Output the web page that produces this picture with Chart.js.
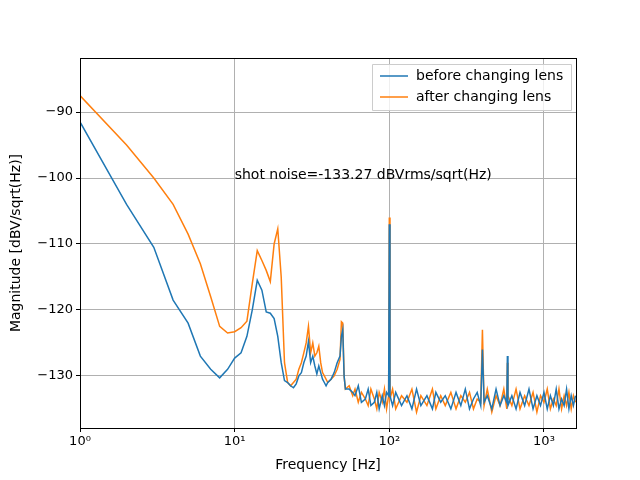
<!DOCTYPE html>
<html>
<head>
<script src="https://cdn.jsdelivr.net/npm/chart.js@4"></script>
<style>body{margin:0;background:#fff}</style>
</head>
<body>
<canvas id="chart" width="640" height="480"></canvas>
<script>
// frequency [Hz] and magnitude [dBV/sqrt(Hz)]
const freqBefore = [1,2,3,4,5,6,7,8,9,10,11,12,13,14,15,16,17,18,19,20,21,22,23,24,25,26,27,28,29,30,31,32,33,34,35,36,37,38,39,40,42,44,46,48,49,50,51,52,55,58,60,63,66,70,73,76,80,83,86,90,93,96,99,100,101,105,110,120,130,140,150,160,175,190,200,215,230,250,270,290,310,330,350,370,390,400,410,430,460,490,520,550,575,580,585,620,660,700,750,800,850,900,950,1000,1050,1100,1150,1200,1250,1300,1350,1400,1450,1500,1550,1600];
const magBefore = [-91.5,-104,-110.5,-118.5,-122,-127,-129,-130.3,-129,-127.3,-126.5,-124,-120,-115.5,-117,-120.3,-120.5,-121.3,-124,-128,-130.7,-131,-131.5,-131.8,-131.2,-130,-129.5,-128,-127,-124.8,-128,-127,-128.5,-129.7,-128.5,-129.5,-130.5,-131,-131.5,-131,-130.5,-129.5,-128,-127,-124,-123,-130,-132,-132,-132.5,-133,-131.5,-134,-133.5,-132,-134.5,-134,-132.5,-135,-133,-134.5,-132.5,-133,-107,-133,-134.5,-132.5,-134.5,-133,-135,-132,-134.5,-133,-135,-132.5,-134,-133,-135,-132.5,-134.5,-132,-135,-133.5,-132.5,-134.5,-126,-134,-133,-135,-132,-134.5,-133,-134,-127,-134.5,-133,-135,-132.5,-134.5,-132,-135,-133,-134.5,-132.5,-135,-133,-134.5,-132,-135,-133.5,-134.5,-132,-135,-133,-134.5,-133];
const freqAfter = [1,2,3,4,5,6,7,8,9,10,11,12,13,14,15,16,17,18,19,20,21,22,23,24,25,26,27,28,29,30,31,32,33,34,35,36,37,38,40,42,44,46,48,49,50,51,52,55,58,60,63,66,70,73,76,80,83,86,90,93,96,99,100,101,105,110,120,130,140,150,160,175,190,200,215,230,250,270,290,310,330,350,370,390,400,410,430,460,490,520,550,575,580,585,620,660,700,750,800,850,900,950,1000,1050,1100,1150,1200,1250,1300,1350,1400,1450,1500,1550,1600];
const magAfter = [-87.5,-95,-100,-104,-108.5,-113,-118,-122.5,-123.5,-123.3,-122.7,-121.7,-116,-111,-112.5,-114,-115.7,-110,-107.7,-115,-128,-131,-131.5,-131,-130.5,-129,-128,-126.5,-125,-122.5,-126.5,-125,-127,-126.5,-125.5,-128,-129.5,-130,-131,-130.5,-130,-129,-127.5,-121.8,-122,-130,-132,-131.5,-133,-132,-134,-132.5,-133.5,-134.5,-132,-133.5,-135,-132.5,-134,-132,-135,-133,-106,-133.5,-132,-135,-133,-134,-132,-135.5,-133,-134.5,-132,-135,-133,-134.5,-132.5,-135,-133,-134,-132.5,-135,-133.5,-134,-123,-134.5,-132,-135.5,-133,-134.5,-132,-135,-128,-133,-134.5,-132,-135,-133,-134.5,-132.5,-135.5,-133,-134,-132,-135,-133.5,-134.5,-132,-135,-133,-134.5,-132.5,-135,-133,-134];
const xTicks = [1, 10, 100, 1000];
const yTicks = [-130, -120, -110, -100, -90];
const seriesNames = ['before changing lens', 'after changing lens'];
const note = 'shot noise=-133.27 dBVrms/sqrt(Hz)';

const sup = {'0':'⁰','1':'¹','2':'²','3':'³'};

function toPoints(xs, ys) {
    let pts = [];
    for (let i = 0; i < xs.length; ++i) pts.push({x: xs[i], y: ys[i]});
    return pts;
}

const extras = {
    id: 'extras',
    afterDraw(chart) {
        let ctx = chart.ctx;
        let a = chart.chartArea;
        let sx = chart.scales.x, sy = chart.scales.y;
        ctx.save();
        // full frame like matplotlib
        ctx.strokeStyle = '#000';
        ctx.lineWidth = 1;
        ctx.strokeRect(Math.round(a.left) + 0.5, Math.round(a.top) + 0.5, Math.round(a.right - a.left), Math.round(a.bottom - a.top));
        ctx.font = '14px "DejaVu Sans"';
        ctx.fillStyle = '#000';
        ctx.textBaseline = 'middle';
        ctx.fillText(note, sx.getPixelForValue(10), sy.getPixelForValue(-99.6));
        // legend box
        let w = 199, h = 46, lx = a.right - w - 5, ly = a.top + 6;
        ctx.fillStyle = 'rgba(255,255,255,0.8)';
        ctx.strokeStyle = '#ccc';
        ctx.beginPath();
        ctx.rect(lx + 0.5, ly + 0.5, w, h);
        ctx.fill();
        ctx.stroke();
        let cols = ['#1f77b4', '#ff7f0e'];
        for (let i = 0; i < 2; ++i) {
            let yy = ly + 12 + i * 21;
            ctx.strokeStyle = cols[i];
            ctx.lineWidth = 1.5;
            ctx.beginPath();
            ctx.moveTo(lx + 8, yy);
            ctx.lineTo(lx + 36, yy);
            ctx.stroke();
            ctx.fillStyle = '#000';
            ctx.fillText(seriesNames[i], lx + 44, yy);
        }
        ctx.restore();
    }
};

let ctx = document.getElementById('chart').getContext('2d');
new Chart(ctx, {
    type: 'line',
    data: {
        datasets: [{
            data: toPoints(freqBefore, magBefore),
            borderColor: '#1f77b4', borderWidth: 1.5, pointRadius: 0, tension: 0
        }, {
            data: toPoints(freqAfter, magAfter),
            borderColor: '#ff7f0e', borderWidth: 1.5, pointRadius: 0, tension: 0
        }]
    },
    options: {
        responsive: false,
        animation: false,
        layout: {padding: {top: 58, right: 64, left: 8, bottom: 6}},
        plugins: {legend: {display: false}, tooltip: {enabled: false}},
        scales: {
            x: {
                type: 'logarithmic', min: 1, max: 1611,
                afterBuildTicks: s => { s.ticks = xTicks.map(v => ({value: v})); },
                afterFit: s => { s.height = 46; },
                ticks: {
                    color: '#000', font: {family: 'DejaVu Sans', size: 13}, maxRotation: 0, padding: 2,
                    callback: v => '10' + sup[String(Math.round(Math.log10(v)))]
                },
                grid: {color: '#b0b0b0', tickColor: '#000', tickLength: 4},
                border: {color: '#000'},
                title: {display: true, text: 'Frequency [Hz]', color: '#000', font: {family: 'DejaVu Sans', size: 14}, padding: 0}
            },
            y: {
                min: -137.9, max: -81.8,
                afterBuildTicks: s => { s.ticks = yTicks.map(v => ({value: v})); },
                afterFit: s => { s.width = 72; },
                ticks: {
                    color: '#000', font: {family: 'DejaVu Sans', size: 13}, padding: 3,
                    callback: v => '\u2212' + Math.abs(v)
                },
                grid: {color: '#b0b0b0', tickColor: '#000', tickLength: 4},
                border: {color: '#000'},
                title: {display: true, text: 'Magnitude [dBV/sqrt(Hz)]', color: '#000', font: {family: 'DejaVu Sans', size: 14}, padding: 0}
            }
        }
    },
    plugins: [extras]
});
</script>
</body>
</html>
